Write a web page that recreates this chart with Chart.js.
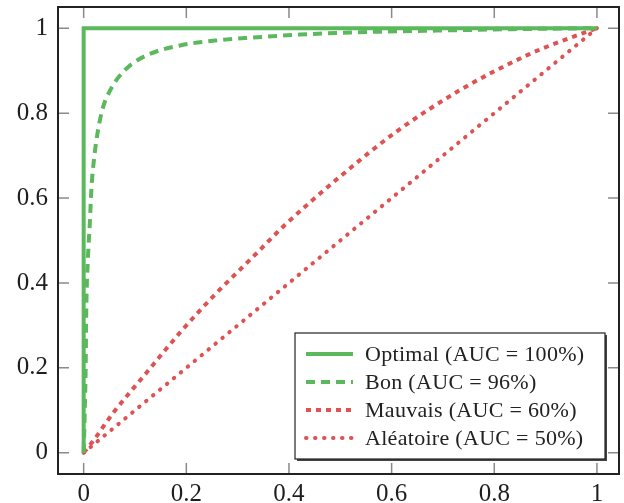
<!DOCTYPE html>
<html>
<head>
<meta charset="utf-8">
<script src="https://cdn.jsdelivr.net/npm/chart.js@4/dist/chart.umd.min.js"></script>
<style>
  html, body { margin: 0; padding: 0; background: #fff; }
</style>
</head>
<body>
<canvas id="roc" width="624" height="503"></canvas>
<script>
// data
var seriesLabels = ['Optimal (AUC = 100%)', 'Bon (AUC = 96%)', 'Mauvais (AUC = 60%)', 'Aléatoire (AUC = 50%)'];
var tickValues = [0, 0.2, 0.4, 0.6, 0.8, 1];

var optimalX = [0, 0, 1];
var optimalY = [0, 1, 1];

var bonX = [0, 0.002, 0.004, 0.005, 0.008, 0.012, 0.015, 0.021, 0.028, 0.038, 0.05, 0.065, 0.09, 0.13, 0.19, 0.265, 0.33, 0.42, 0.52, 0.71, 0.85, 1];
var bonY = [0, 0.09, 0.21, 0.33, 0.45, 0.54, 0.62, 0.70, 0.76, 0.815, 0.85, 0.88, 0.912, 0.94, 0.96, 0.972, 0.978, 0.985, 0.99, 0.995, 0.998, 1];

var mauvaisX = [0, 0.018, 0.057, 0.122, 0.187, 0.252, 0.337, 0.389, 0.499, 0.609, 0.733, 0.863, 0.927, 1];
var mauvaisY = [0, 0.027, 0.093, 0.188, 0.282, 0.368, 0.47, 0.533, 0.65, 0.756, 0.854, 0.936, 0.968, 1];

var aleatoireX = [0, 1];
var aleatoireY = [0, 1];

var green = 'rgb(92, 184, 92)';
var red = 'rgb(222, 82, 82)';
var serif = "'Liberation Serif', 'DejaVu Serif', serif";

function pts(xs, ys) {
    return xs.map(function (x, i) { return { x: x, y: ys[i] }; });
}

// pgfplots style frame with inward ticks on all four sides
var framePlugin = {
    id: 'frame',
    afterDraw: function (chart) {
        var ctx = chart.ctx, a = chart.chartArea;
        var xs = chart.scales.x, ys = chart.scales.y;
        ctx.save();
        ctx.strokeStyle = '#8a8a8a';
        ctx.lineWidth = 1.5;
        ctx.beginPath();
        tickValues.forEach(function (v) {
            var px = xs.getPixelForValue(v);
            ctx.moveTo(px, a.bottom); ctx.lineTo(px, a.bottom - 11);
            ctx.moveTo(px, a.top); ctx.lineTo(px, a.top + 11);
            var py = ys.getPixelForValue(v);
            ctx.moveTo(a.left, py); ctx.lineTo(a.left + 11, py);
            ctx.moveTo(a.right, py); ctx.lineTo(a.right - 11, py);
        });
        ctx.stroke();
        ctx.strokeStyle = '#222';
        ctx.lineWidth = 2;
        ctx.strokeRect(a.left, a.top, a.right - a.left, a.bottom - a.top);
        ctx.restore();
    }
};

// legend box inside the plot, bottom right
var legendPlugin = {
    id: 'boxLegend',
    afterDraw: function (chart) {
        var ctx = chart.ctx, a = chart.chartArea;
        var w = 310, h = 126;
        var left = a.right - 14 - w, top = a.bottom - 15 - h;
        ctx.save();
        ctx.fillStyle = '#444';
        ctx.fillRect(left + 2, top + 2, w, h);
        ctx.fillStyle = '#fff';
        ctx.fillRect(left, top, w, h);
        ctx.strokeStyle = '#222';
        ctx.lineWidth = 1.2;
        ctx.strokeRect(left, top, w, h);
        ctx.font = '22px ' + serif;
        ctx.letterSpacing = '0.3px';
        ctx.textBaseline = 'middle';
        chart.data.datasets.forEach(function (ds, i) {
            var yy = top + 21 + i * 28;
            ctx.strokeStyle = ds.borderColor;
            ctx.lineWidth = ds.borderWidth;
            ctx.lineCap = ds.borderCapStyle || 'butt';
            ctx.setLineDash(ds.borderDash || []);
            ctx.beginPath();
            ctx.moveTo(left + 11, yy);
            ctx.lineTo(left + 58, yy);
            ctx.stroke();
            ctx.setLineDash([]);
            ctx.fillStyle = '#222';
            ctx.fillText(ds.label, left + 70, yy + 1);
        });
        ctx.restore();
    }
};

var tickFont = { family: serif, size: 25 };

function noEdgePadding(s) {
    s.paddingTop = 0; s.paddingBottom = 0;
    s.paddingLeft = 0; s.paddingRight = 0;
}

var chart = new Chart(document.getElementById('roc'), {
    type: 'scatter',
    data: {
        datasets: [{
            label: seriesLabels[0],
            data: pts(optimalX, optimalY),
            borderColor: green,
            borderWidth: 4
        }, {
            label: seriesLabels[1],
            data: pts(bonX, bonY),
            borderColor: green,
            borderWidth: 4,
            borderDash: [9, 6],
            cubicInterpolationMode: 'monotone'
        }, {
            label: seriesLabels[2],
            data: pts(mauvaisX, mauvaisY),
            borderColor: red,
            borderWidth: 4,
            borderDash: [5, 5],
            cubicInterpolationMode: 'monotone'
        }, {
            label: seriesLabels[3],
            data: pts(aleatoireX, aleatoireY),
            borderColor: red,
            borderWidth: 4,
            borderCapStyle: 'round',
            borderDash: [0.5, 8.5]
        }]
    },
    options: {
        responsive: false,
        animation: false,
        devicePixelRatio: 1,
        showLine: true,
        elements: { point: { radius: 0, hoverRadius: 0 }, line: { fill: false } },
        layout: { padding: { top: 7, right: 5, left: 0, bottom: 0 } },
        plugins: { legend: { display: false }, tooltip: { enabled: false } },
        scales: {
            x: {
                type: 'linear',
                min: -0.05,
                max: 1.043,
                grid: { display: false, drawTicks: false },
                border: { display: false },
                afterBuildTicks: function (s) { s.ticks = tickValues.map(function (v) { return { value: v }; }); },
                afterFit: function (s) { s.height = 29; noEdgePadding(s); },
                ticks: { font: tickFont, color: '#1e1e1e', padding: 5, maxRotation: 0,
                         callback: function (v) { return String(v); } }
            },
            y: {
                type: 'linear',
                min: -0.05,
                max: 1.05,
                grid: { display: false, drawTicks: false },
                border: { display: false },
                afterBuildTicks: function (s) { s.ticks = tickValues.map(function (v) { return { value: v }; }); },
                afterFit: function (s) { s.width = 58; noEdgePadding(s); },
                ticks: { font: tickFont, color: '#1e1e1e', padding: 10,
                         callback: function (v) { return String(v); } }
            }
        }
    },
    plugins: [framePlugin, legendPlugin]
});
</script>
</body>
</html>
